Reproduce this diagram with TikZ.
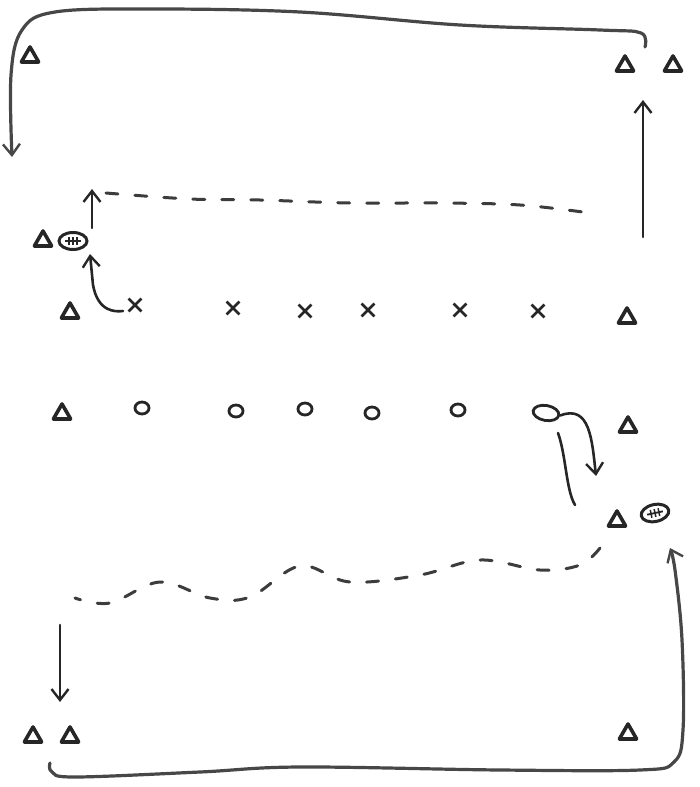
\documentclass[tikz,border=0pt]{standalone}
\usetikzlibrary{shapes.geometric,shapes.misc,arrows.meta}
\definecolor{ink}{HTML}{262626}
\tikzset{
  barb/.style={-{Straight Barb[length=11pt,width=17pt,line width=2.4pt]}},
  cone/.style={regular polygon,regular polygon sides=3,draw=ink,line width=3.6pt,minimum size=20pt,inner sep=0pt,line join=round},
  attacker/.style={cross out,draw=ink,line width=2.8pt,minimum size=10pt,inner sep=0pt},
  defender/.style={ellipse,draw=ink,line width=2.8pt,minimum width=14pt,minimum height=12pt,inner sep=0pt},
  football/.style={ellipse,draw=ink,line width=3pt,minimum width=28pt,minimum height=17pt,inner sep=0pt,
    path picture={\draw[ink,line width=1.8pt] ([xshift=-8pt]path picture bounding box.center) -- ([xshift=8pt]path picture bounding box.center);
      \foreach \d in {-4,0,4}{\draw[ink,line width=1.5pt] ([xshift=\d pt,yshift=-4pt]path picture bounding box.center) -- ([xshift=\d pt,yshift=4pt]path picture bounding box.center);}}},
  run/.style={draw=ink,line width=2.6pt,line cap=round,line join=round,barb},
  sweep/.style={draw=ink!85,line width=3.2pt,line cap=round,line join=round},
  carry/.style={draw=ink!90,line width=3pt,line cap=round,dash pattern=on 12pt off 17pt},
  plainline/.style={draw=ink,line width=2.6pt,line cap=round}
}
\begin{document}
\begin{tikzpicture}[x=1pt,y=-1pt]
\useasboundingbox (0,0) rectangle (700,787);
% cones
\node[cone] (t1) at (30,57) {};
\node[cone] (t2) at (625,66) {};
\node[cone] (t3) at (673,66) {};
\node[cone] (t4) at (43,241) {};
\node[cone] (t5) at (70,313) {};
\node[cone] (t6) at (627,318) {};
\node[cone] (t7) at (62,414) {};
\node[cone] (t8) at (628,427) {};
\node[cone] (t9) at (617,521) {};
\node[cone] (t10) at (33,737) {};
\node[cone] (t11) at (70,737) {};
\node[cone] (t12) at (628,734) {};
% footballs
\node[football] (b1) at (73,241) {};
\node[football,rotate=12] (b2) at (655,513) {};
% attackers
\node[attacker] (x1) at (135,305) {};
\node[attacker] (x2) at (233,308) {};
\node[attacker] (x3) at (305,311) {};
\node[attacker] (x4) at (368,310) {};
\node[attacker] (x5) at (460,310) {};
\node[attacker] (x6) at (538,311) {};
% defenders
\node[defender] (o1) at (142,408) {};
\node[defender] (o2) at (236,411) {};
\node[defender] (o3) at (305,409) {};
\node[defender] (o4) at (372,413) {};
\node[defender] (o5) at (458,410) {};
\node[defender,minimum width=26pt,minimum height=15pt,rotate=-10] (o6) at (546,413) {};
% free ends
\coordinate (topR) at (645,47);
\coordinate (topL) at (12,157);
\coordinate (upR0) at (643,237);
\coordinate (upR1) at (643,100);
\coordinate (up1a) at (92,228);
\coordinate (up1b) at (92,189);
\coordinate (dn1a) at (60,625);
\coordinate (dn1b) at (60,702);
\coordinate (botL) at (50,763);
\coordinate (botR) at (670,548);
% top return sweep
\path[sweep,barb] plot[smooth,tension=0.6] coordinates
  {(topR) (641,33) (600,30) (460,25) (300,12) (150,9) (55,12) (22,30) (11,75) (topL)};
% right up arrow
\draw[run] (upR0) -- (upR1);
% x1 to ball
\draw[run] ([xshift=-12pt,yshift=-6pt]x1.center) .. controls (115,312) and (98,312) .. (93,285) -- (90,254);
% ball up
\draw[run] (up1a) -- (up1b);
% top dashed carry
\path[carry] plot[smooth,tension=0.6] coordinates {(106,193) (190,199) (260,200) (350,203) (440,203) (520,205) (590,213)};
% o6 curl
\draw[run] (o6.east) .. controls (590,404) and (592,440) .. (596,476);
\draw[plainline] (558,433) .. controls (566,455) and (566,490) .. (575,505);
% bottom dashed carry
\path[carry] plot[smooth,tension=0.6] coordinates
  {(600,548) (580,565) (540,570) (480,560) (420,575) (350,582) (300,566) (250,597) (210,598) (160,582) (110,603) (75,598)};
% left down arrow
\draw[run] (dn1a) -- (dn1b);
% bottom return sweep
\path[sweep,barb] plot[smooth,tension=0.6] coordinates
  {(botL) (52,772) (75,777) (200,772) (300,767) (500,770) (640,770) (674,762) (683,730) (682,640) (675,570) (botR)};
\end{tikzpicture}
\end{document}
